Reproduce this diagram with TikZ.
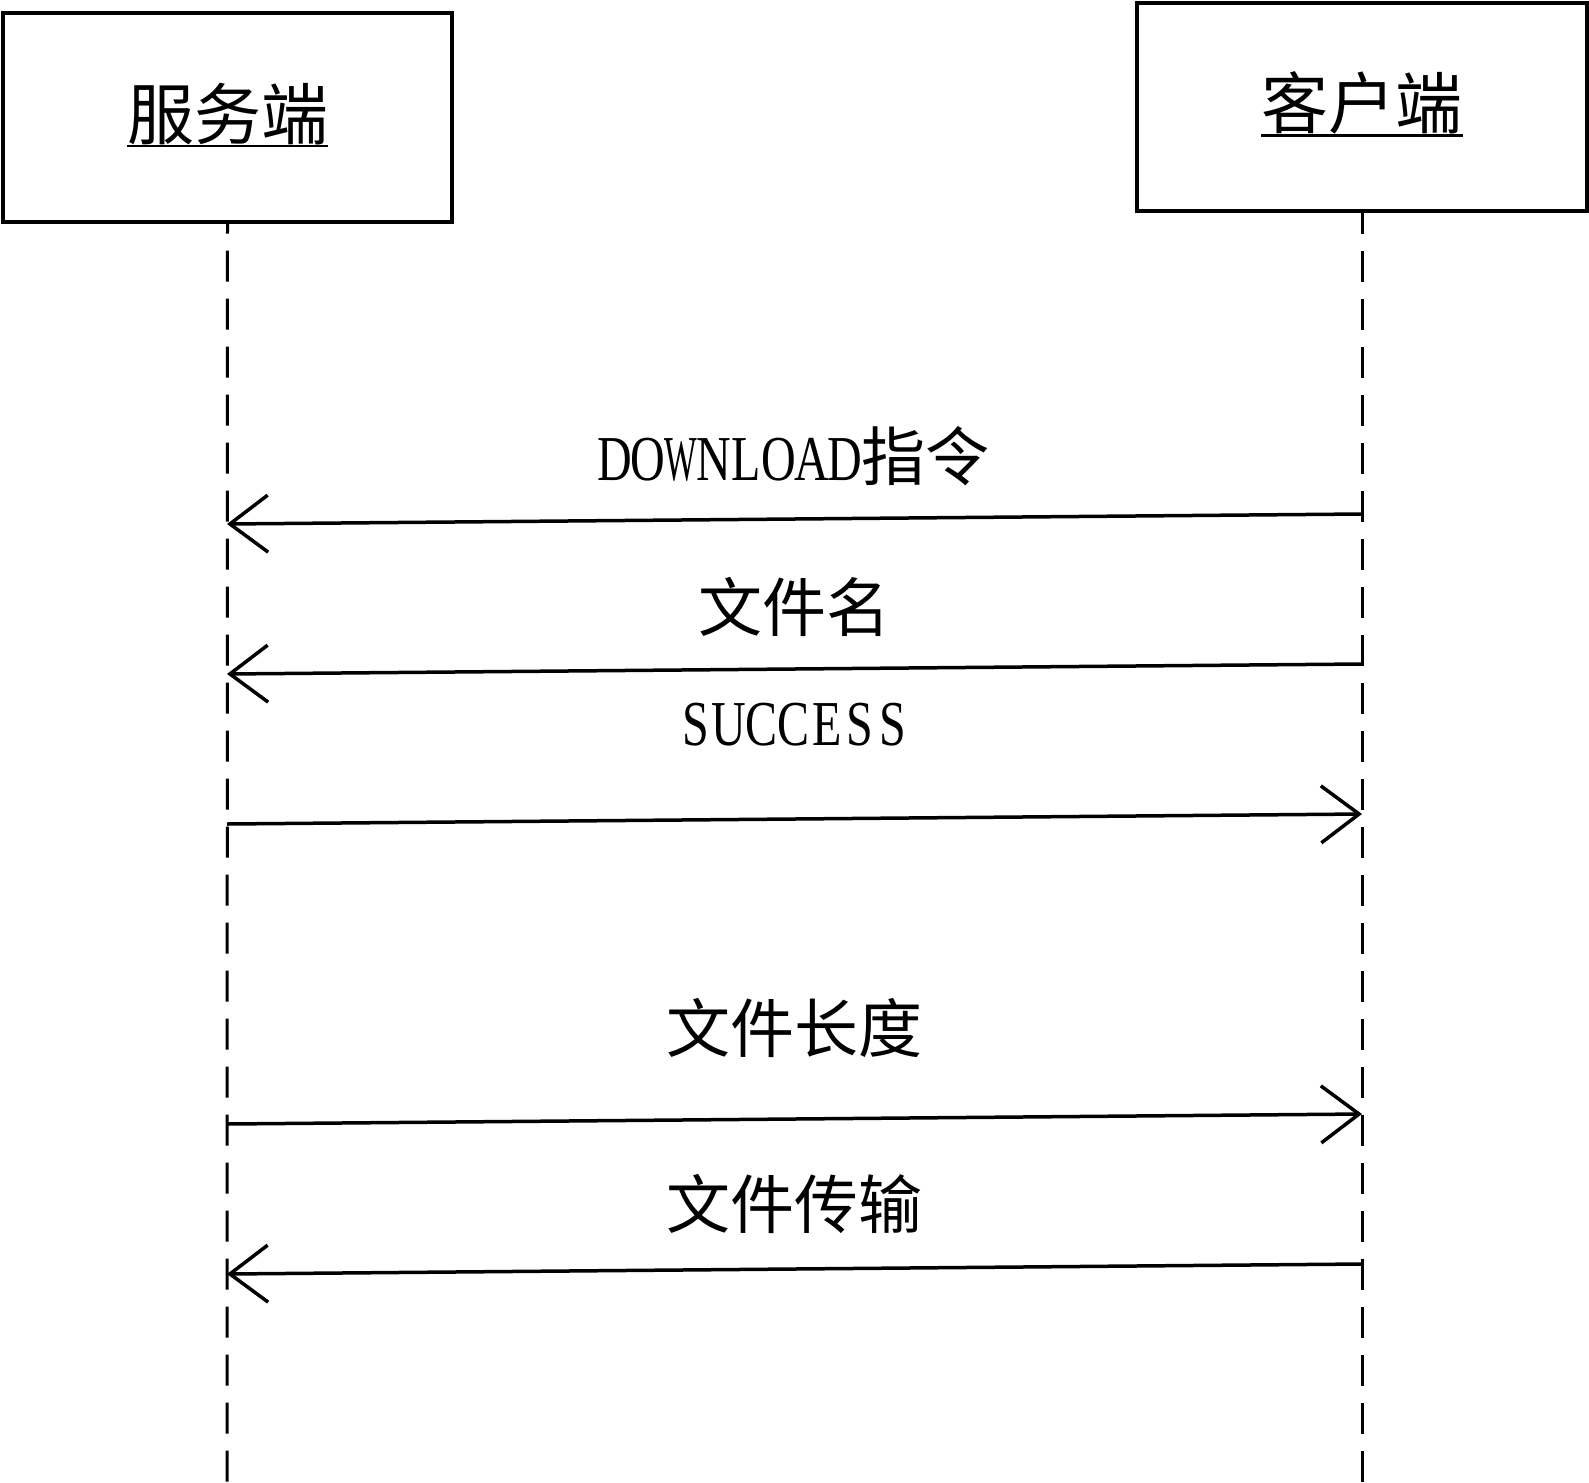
\documentclass[tikz,border=0pt]{standalone}
\usepackage{fontspec}
\usepackage{graphicx}
\usetikzlibrary{arrows.meta}
\newfontfamily\cjk{Noto Sans CJK SC}
\newfontfamily\lat[FakeStretch=0.75]{Liberation Serif}
\newcommand\hw[1]{\makebox[32.8pt]{#1}}
\begin{document}
\begin{tikzpicture}[x=1pt,y=-1pt]
\useasboundingbox[fill=white] (0,0) rectangle (1589,1482);
\tikzset{
  actor/.style={draw, line width=3.2pt, inner sep=0pt, fill=white},
  lifeline/.style={line width=3pt, dash pattern=on 31pt off 17pt},
  msg/.style={line width=3.5pt, -{Straight Barb[length=38pt,width=57pt]}},
  lbl/.style={inner sep=0pt, font=\cjk\fontsize{64}{64}\selectfont},
  title/.style={inner sep=0pt, font=\cjk\fontsize{67}{67}\selectfont},
  uline/.style={line width=2.6pt},
}
% lifeline ends
\coordinate (sEnd) at (227,1482);
\coordinate (cEnd) at (1362,1482);
% actor boxes
\node[actor, minimum width=449pt, minimum height=209pt] (srv) at (227.5,117.5) {};
\node[actor, minimum width=450pt, minimum height=208pt] (cli) at (1362,107) {};
\node[title] (srvl) at (227.5,114) {服务端};
\node[title] (clil) at (1362,103) {客户端};
\draw[uline] ([yshift=-1pt]srvl.south west) -- ([yshift=-1pt]srvl.south east);
\draw[uline] ([yshift=-1pt]clil.south west) -- ([yshift=-1pt]clil.south east);
% lifelines
\draw[lifeline, dash phase=21pt] (srv.south) -- (sEnd);
\draw[lifeline, dash phase=10pt] (cli.south) -- (cEnd);
% message end points
\coordinate (c1) at (1362,514);  \coordinate (s1) at (227,524);
\coordinate (c2) at (1362,664);  \coordinate (s2) at (227,674);
\coordinate (s3) at (227,824);   \coordinate (c3) at (1362,814);
\coordinate (s4) at (227,1124);  \coordinate (c4) at (1362,1114);
\coordinate (c5) at (1362,1264); \coordinate (s5) at (227,1274);
% messages
\draw[msg] (c1) -- (s1);
\draw[msg] (c2) -- (s2);
\draw[msg] (s3) -- (c3);
\draw[msg] (s4) -- (c4);
\draw[msg] (c5) -- (s5);
% labels
\node[lbl] (t1) at (794,456) {{\lat\hw{D}\hw{O}\hw{\scalebox{0.72}[1]{W}}\hw{N}\hw{L}\hw{O}\hw{A}\hw{D}}指令};
\node[lbl] (t2) at (794,607) {文件名};
\node[lbl] (t3) at (794,725) {{\lat\hw{S}\hw{U}\hw{C}\hw{C}\hw{E}\hw{S}\hw{S}}};
\node[lbl] (t4) at (794,1028) {文件长度};
\node[lbl] (t5) at (794,1204) {文件传输};
\end{tikzpicture}
\end{document}
